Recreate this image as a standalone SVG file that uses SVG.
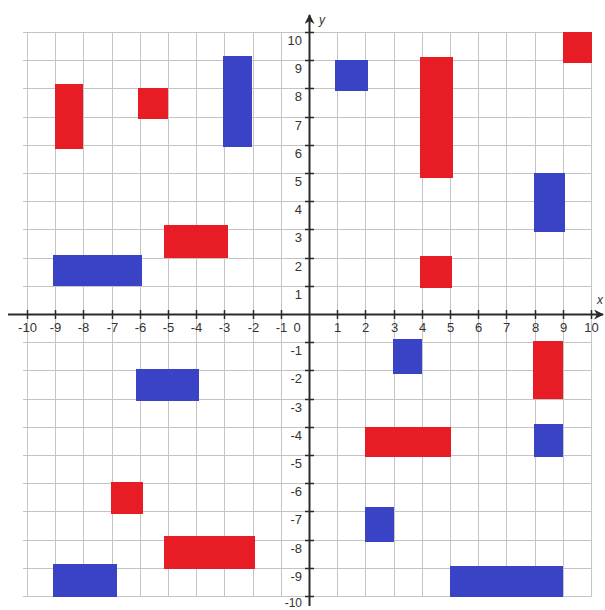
<svg xmlns="http://www.w3.org/2000/svg" width="605" height="610" viewBox="0 0 605 610">
<style>
.grid{stroke:#c4c4c4;stroke-width:1;fill:none}
.axis{stroke:#2a2a2a;stroke-width:2;fill:none}
.tick{stroke:#2a2a2a;stroke-width:1.5}
.r{fill:#e81c25}
.b{fill:#3a42c6}
text{font-family:"Liberation Sans",Arial,sans-serif;font-size:13px;fill:#333}
.xl{text-anchor:middle}
.yl{text-anchor:end}
.var{font-style:italic;font-size:12px}
</style>
<defs>
<marker id="arr" viewBox="0 0 10 10" refX="9" refY="5" markerWidth="5" markerHeight="5" orient="auto" markerUnits="strokeWidth">
<path d="M0,0 L10,5 L0,10 L3,5 z" fill="#2a2a2a"/>
</marker>
</defs>
<rect width="605" height="610" fill="#fff"/>
<g id="grid">
<path class="grid" d="M27.5,32.5V596.5M55.5,32.5V596.5M83.5,32.5V596.5M112.5,32.5V596.5M140.5,32.5V596.5M168.5,32.5V596.5M196.5,32.5V596.5M224.5,32.5V596.5M253.5,32.5V596.5M281.5,32.5V596.5M337.5,32.5V596.5M365.5,32.5V596.5M394.5,32.5V596.5M422.5,32.5V596.5M450.5,32.5V596.5M478.5,32.5V596.5M506.5,32.5V596.5M535.5,32.5V596.5M563.5,32.5V596.5M591.5,32.5V596.5"/>
<path class="grid" d="M23,32.5H591.5M23,60.5H591.5M23,88.5H591.5M23,117.5H591.5M23,145.5H591.5M23,173.5H591.5M23,201.5H591.5M23,229.5H591.5M23,258.5H591.5M23,286.5H591.5M23,342.5H591.5M23,370.5H591.5M23,399.5H591.5M23,427.5H591.5M23,455.5H591.5M23,483.5H591.5M23,511.5H591.5M23,540.5H591.5M23,568.5H591.5M23,596.5H591.5"/>
</g>
<g id="red-rects">
<rect id="r1" class="r" x="55" y="84" width="28" height="65"/>
<rect id="r2" class="r" x="138" y="88" width="30" height="31"/>
<rect id="r3" class="r" x="420" y="57" width="33" height="121"/>
<rect id="r4" class="r" x="563" y="32" width="29" height="31"/>
<rect id="r5" class="r" x="164" y="225" width="64" height="33"/>
<rect id="r6" class="r" x="420" y="256" width="32" height="32"/>
<rect id="r7" class="r" x="533" y="341" width="30" height="58"/>
<rect id="r8" class="r" x="365" y="427" width="86" height="30"/>
<rect id="r9" class="r" x="111" y="482" width="32" height="32"/>
<rect id="r10" class="r" x="164" y="536" width="91" height="33"/>
</g>
<g id="blue-rects">
<rect id="b1" class="b" x="223" y="56" width="29" height="91"/>
<rect id="b2" class="b" x="335" y="60" width="33" height="31"/>
<rect id="b3" class="b" x="534" y="173" width="31" height="59"/>
<rect id="b4" class="b" x="53" y="255" width="89" height="31"/>
<rect id="b5" class="b" x="393" y="339" width="29" height="35"/>
<rect id="b6" class="b" x="136" y="369" width="63" height="32"/>
<rect id="b7" class="b" x="534" y="424" width="29" height="33"/>
<rect id="b8" class="b" x="365" y="507" width="29" height="35"/>
<rect id="b9" class="b" x="53" y="564" width="64" height="33"/>
<rect id="b10" class="b" x="450" y="566" width="113" height="31"/>
</g>
<g id="axes">
<path class="axis" d="M8,314.5H603" marker-end="url(#arr)"/>
<path class="axis" d="M309.5,606V15" marker-end="url(#arr)"/>
<path class="tick" d="M27.5,310V319M55.5,310V319M83.5,310V319M112.5,310V319M140.5,310V319M168.5,310V319M196.5,310V319M224.5,310V319M253.5,310V319M281.5,310V319M337.5,310V319M365.5,310V319M394.5,310V319M422.5,310V319M450.5,310V319M478.5,310V319M506.5,310V319M535.5,310V319M563.5,310V319M591.5,310V319"/>
<path class="tick" d="M305,32.5H314M305,60.5H314M305,88.5H314M305,117.5H314M305,145.5H314M305,173.5H314M305,201.5H314M305,229.5H314M305,258.5H314M305,286.5H314M305,342.5H314M305,370.5H314M305,399.5H314M305,427.5H314M305,455.5H314M305,483.5H314M305,511.5H314M305,540.5H314M305,568.5H314M305,596.5H314"/>
</g>
<g id="x-labels">
<text class="xl" x="27.5" y="332">-10</text>
<text class="xl" x="55.5" y="332">-9</text>
<text class="xl" x="83.5" y="332">-8</text>
<text class="xl" x="112.5" y="332">-7</text>
<text class="xl" x="140.5" y="332">-6</text>
<text class="xl" x="168.5" y="332">-5</text>
<text class="xl" x="196.5" y="332">-4</text>
<text class="xl" x="224.5" y="332">-3</text>
<text class="xl" x="253.5" y="332">-2</text>
<text class="xl" x="281.5" y="332">-1</text>
<text class="xl" x="297" y="332">0</text>
<text class="xl" x="337.5" y="332">1</text>
<text class="xl" x="365.5" y="332">2</text>
<text class="xl" x="394.5" y="332">3</text>
<text class="xl" x="422.5" y="332">4</text>
<text class="xl" x="450.5" y="332">5</text>
<text class="xl" x="478.5" y="332">6</text>
<text class="xl" x="506.5" y="332">7</text>
<text class="xl" x="535.5" y="332">8</text>
<text class="xl" x="563.5" y="332">9</text>
<text class="xl" x="591.5" y="332">10</text>
<text class="var" x="597" y="304">x</text>
</g>
<g id="y-labels">
<text class="yl" x="302" y="45">10</text>
<text class="yl" x="302" y="73">9</text>
<text class="yl" x="302" y="101">8</text>
<text class="yl" x="302" y="130">7</text>
<text class="yl" x="302" y="158">6</text>
<text class="yl" x="302" y="186">5</text>
<text class="yl" x="302" y="214">4</text>
<text class="yl" x="302" y="242">3</text>
<text class="yl" x="302" y="271">2</text>
<text class="yl" x="302" y="299">1</text>
<text class="yl" x="302" y="355">-1</text>
<text class="yl" x="302" y="383">-2</text>
<text class="yl" x="302" y="412">-3</text>
<text class="yl" x="302" y="440">-4</text>
<text class="yl" x="302" y="468">-5</text>
<text class="yl" x="302" y="496">-6</text>
<text class="yl" x="302" y="524">-7</text>
<text class="yl" x="302" y="553">-8</text>
<text class="yl" x="302" y="581">-9</text>
<text class="yl" x="302" y="607" style="font-size:12px">-10</text>
<text class="var" x="319" y="24">y</text>
</g>
</svg>
